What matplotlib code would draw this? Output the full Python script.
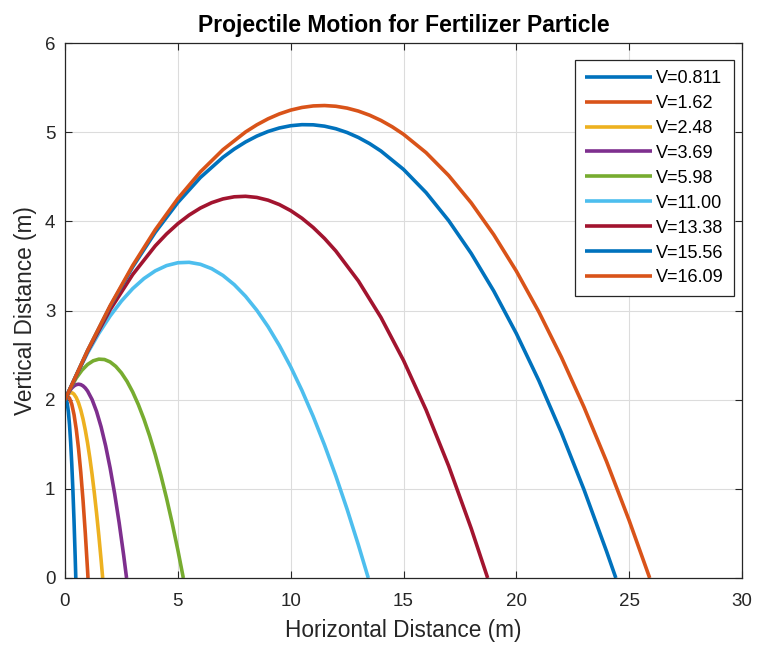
import matplotlib
matplotlib.use("Agg")
import matplotlib.pyplot as plt

plt.rcParams['font.family'] = ['Liberation Sans', 'DejaVu Sans']

labels = ["V=0.811", "V=1.62", "V=2.48", "V=3.69", "V=5.98",
          "V=11.00", "V=13.38", "V=15.56", "V=16.09"]
colors = ["#0072BD", "#D95319", "#EDB120", "#7E2F8E", "#77AC30",
          "#4DBEEE", "#A2142F", "#0072BD", "#D95319"]

x_v0811 = [0, 0.025, 0.05, 0.1, 0.15, 0.2, 0.25, 0.3, 0.35, 0.4, 0.45, 0.4784]
y_v0811 = [2, 2.0082, 2.0040, 1.9583, 1.8629, 1.7177, 1.5228, 1.2783, 0.9839, 0.6399, 0.2462, 0]

x_v162 = [0, 0.05, 0.1, 0.15, 0.2, 0.3, 0.4, 0.5, 0.6, 0.7, 0.8, 0.9, 1.0, 1.0192]
y_v162 = [2, 2.0226, 2.0328, 2.0305, 2.0158, 1.9489, 1.8322, 1.6657, 1.4493, 1.1831, 0.8670, 0.5011, 0.0854, 0]

x_v248 = [0, 0.05, 0.1, 0.15, 0.2, 0.25, 0.3, 0.35, 0.4, 0.5, 0.6, 0.7, 0.8, 0.9, 1.0,
          1.1, 1.2, 1.3, 1.4, 1.5, 1.6, 1.6695]
y_v248 = [2, 2.0262, 2.0471, 2.0627, 2.0729, 2.0779, 2.0775, 2.0718, 2.0608, 2.0229, 1.9636,
          1.8831, 1.7814, 1.6584, 1.5141, 1.3485, 1.1617, 0.9536, 0.7242, 0.4736, 0.2017, 0]

x_v369 = [0, 0.1, 0.2, 0.3, 0.4, 0.5, 0.6, 0.7, 0.8, 0.9, 1.0, 1.2, 1.4, 1.6, 1.8, 2.0,
          2.2, 2.4, 2.6, 2.728]
y_v369 = [2, 2.0529, 2.0963, 2.1300, 2.1541, 2.1686, 2.1735, 2.1688, 2.1545, 2.1306, 2.0970,
          2.0012, 1.8669, 1.6941, 1.4830, 1.2334, 0.9454, 0.6190, 0.2542, 0]

x_v598 = [0, 0.25, 0.5, 0.75, 1.0, 1.25, 1.5, 1.75, 2.0, 2.25, 2.5, 2.75, 3.0, 3.25, 3.5,
          3.75, 4.0, 4.25, 4.5, 4.75, 5.0, 5.243]
y_v598 = [2, 2.1329, 2.2430, 2.3301, 2.3945, 2.4359, 2.4545, 2.4503, 2.4231, 2.3732, 2.3003,
          2.2046, 2.0860, 1.9446, 1.7803, 1.5932, 1.3832, 1.1503, 0.8946, 0.6160, 0.3145, 0]

x_v1100 = [0, 0.5, 1, 1.5, 2, 2.5, 3, 3.5, 4, 4.5, 5, 5.5, 6, 6.5, 7, 7.5, 8, 8.5, 9, 9.5,
           10, 10.5, 11, 11.5, 12, 12.5, 13, 13.44]
y_v1100 = [2, 2.2752, 2.5233, 2.7444, 2.9385, 3.1056, 3.2456, 3.3586, 3.4446, 3.5036, 3.5355,
           3.5404, 3.5183, 3.4692, 3.3930, 3.2898, 3.1596, 3.0024, 2.8181, 2.6068, 2.3685,
           2.1032, 1.8108, 1.4914, 1.1450, 0.7716, 0.3711, 0]

x_v1338 = [0, 1, 2, 3, 4, 4.5, 5, 5.5, 6, 6.5, 7, 7.5, 8, 8.5, 9, 9.5, 10, 10.5, 11, 11.5,
           12, 13, 14, 15, 16, 17, 18, 18.73]
y_v1338 = [2, 2.5408, 3.0086, 3.4033, 3.7249, 3.8583, 3.9735, 4.0703, 4.1490, 4.2093, 4.2514,
           4.2752, 4.2808, 4.2680, 4.2371, 4.1878, 4.1203, 4.0345, 3.9305, 3.8082, 3.6676,
           3.3316, 2.9226, 2.4406, 1.8854, 1.2572, 0.5559, 0]

x_v1556 = [0, 1, 2, 3, 4, 5, 6, 7, 7.5, 8, 8.5, 9, 9.5, 10, 10.5, 11, 11.5, 12, 12.5, 13,
           13.5, 14, 15, 16, 17, 18, 19, 20, 21, 22, 23, 24, 24.41]
y_v1556 = [2, 2.5503, 3.0466, 3.4889, 3.8772, 4.2114, 4.4917, 4.7179, 4.8107, 4.8900, 4.9559,
           5.0082, 5.0470, 5.0723, 5.0841, 5.0824, 5.0672, 5.0385, 4.9963, 4.9405, 4.8713,
           4.7886, 4.5826, 4.3225, 4.0085, 3.6404, 3.2183, 2.7422, 2.2121, 1.6279, 0.9897,
           0.2975, 0]

x_v1609 = [0, 1, 2, 3, 4, 5, 6, 7, 8, 8.5, 9, 9.5, 10, 10.5, 11, 11.5, 12, 12.5, 13, 13.5,
           14, 14.5, 15, 16, 17, 18, 19, 20, 21, 22, 23, 24, 25, 25.91]
y_v1609 = [2, 2.5521, 3.0537, 3.5047, 3.9052, 4.2552, 4.5547, 4.8036, 5.0020, 5.0823, 5.1499,
           5.2049, 5.2473, 5.2770, 5.2942, 5.2986, 5.2905, 5.2697, 5.2363, 5.1902, 5.1316,
           5.0602, 4.9763, 4.7705, 4.5142, 4.2074, 3.8501, 3.4422, 2.9838, 2.4749, 1.9155,
           1.3055, 0.6450, 0]

xs = [x_v0811, x_v162, x_v248, x_v369, x_v598, x_v1100, x_v1338, x_v1556, x_v1609]
ys = [y_v0811, y_v162, y_v248, y_v369, y_v598, y_v1100, y_v1338, y_v1556, y_v1609]

W, H = 757, 646
fig = plt.figure(figsize=(W / 100, H / 100), dpi=100)
L, R, T, B = 65, 742, 43, 578
ax = fig.add_axes([L / W, 1 - B / H, (R - L) / W, (B - T) / H])

for x, y, c, lab in zip(xs, ys, colors, labels):
    ax.plot(x, y, color=c, lw=2.6, label=lab, solid_capstyle='butt', solid_joinstyle='round')

ax.set_xlim(0, 30)
ax.set_ylim(0, 6)
ax.set_xticks([0, 5, 10, 15, 20, 25, 30])
ax.set_yticks([0, 1, 2, 3, 4, 5, 6])
ax.grid(True, color='#dcdcdc', lw=0.8)
ax.set_axisbelow(True)
ax.tick_params(direction='in', top=True, right=True, length=5, width=0.8,
               labelsize=13.5, colors='#262626')
ax.tick_params(axis='x', pad=11)
ax.tick_params(axis='y', pad=7)
for s in ax.spines.values():
    s.set_color('#262626')
    s.set_linewidth(0.9)

ax.set_title("Projectile Motion for Fertilizer Particle", fontsize=16.5,
             fontweight='bold', pad=8)
ax.set_xlabel("Horizontal Distance (m)", fontsize=16.3, color='#262626')
ax.set_ylabel("Vertical Distance (m)", fontsize=16.3, color='#262626')
ax.xaxis.set_label_coords(0.5, (B - 619) / (B - T))
ax.yaxis.set_label_coords((37 - L) / (R - L), 0.5)

leg = ax.legend(loc='upper right',
                bbox_to_anchor=((734 - L) / (R - L), (B - 60) / (B - T)),
                borderaxespad=0, fontsize=13, handlelength=3.7, handletextpad=0.25,
                labelspacing=0.44, borderpad=0.55, fancybox=False, framealpha=1,
                edgecolor='#262626')
leg.get_frame().set_linewidth(0.9)

fig.savefig("out.png", dpi=100)
